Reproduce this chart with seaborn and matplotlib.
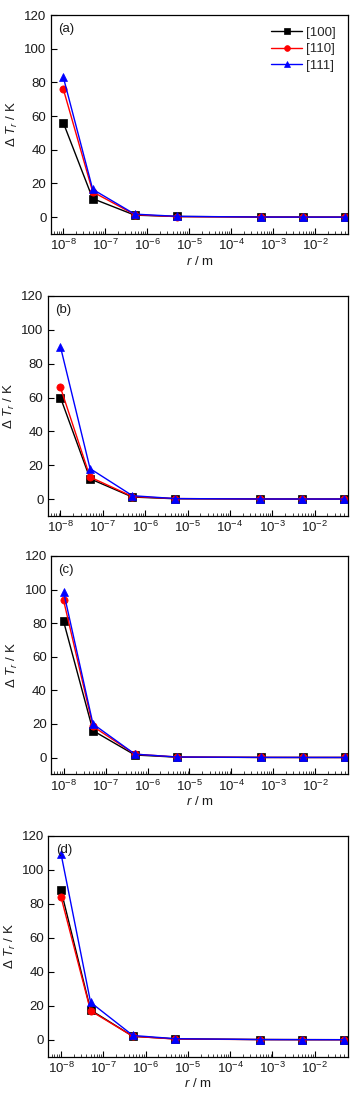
import numpy as np
import pandas as pd
import matplotlib
matplotlib.use("Agg")
import matplotlib.pyplot as plt
import seaborn as sns

# radius values (m)
r_vals = [1e-8, 5e-8, 5e-7, 5e-6, 5e-4, 5e-3, 5e-2]
directions = ["[100]", "[110]", "[111]"]
panel_labels = ["(a)", "(b)", "(c)", "(d)"]

# delta T_r (K) per panel, per direction
a_100 = [56, 11, 1.2, 0.4, 0.1, 0.05, 0.02]
a_110 = [76, 15, 1.5, 0.3, 0.05, 0.03, 0.02]
a_111 = [83, 16.5, 1.8, 0.5, 0.05, 0.03, 0.02]

b_100 = [60, 12, 1.2, 0.2, 0.05, 0.03, 0.02]
b_110 = [66, 13, 1.5, 0.3, 0.05, 0.03, 0.02]
b_111 = [90, 18, 2.0, 0.3, 0.05, 0.03, 0.02]

c_100 = [81, 16, 1.5, 0.2, 0.05, 0.03, 0.02]
c_110 = [93.5, 18.5, 2.0, 0.3, 0.05, 0.03, 0.02]
c_111 = [98.5, 20, 2.0, 0.3, 0.05, 0.03, 0.02]

d_100 = [88, 17.5, 2.0, 0.5, 0.1, 0.05, 0.02]
d_110 = [84, 17, 2.0, 0.4, 0.1, 0.05, 0.02]
d_111 = [109.5, 22, 2.5, 0.6, 0.1, 0.05, 0.02]

panels = [
    [a_100, a_110, a_111],
    [b_100, b_110, b_111],
    [c_100, c_110, c_111],
    [d_100, d_110, d_111],
]

sns.set_theme(style="ticks")
plt.rcParams["font.family"] = ["Liberation Sans", "DejaVu Sans"]
plt.rcParams["mathtext.fontset"] = "custom"
plt.rcParams["mathtext.rm"] = "Liberation Sans"
plt.rcParams["mathtext.it"] = "Liberation Sans:italic"
plt.rcParams["mathtext.default"] = "regular"

W, H = 354, 1094
fig = plt.figure(figsize=(W / 100, H / 100), dpi=100)

# axes boxes in pixels: left, right, top, bottom
boxes = [
    (50.7, 348, 15, 234),
    (47.7, 347.7, 296, 516),
    (51, 348, 556, 774.3),
    (48.3, 347.7, 836, 1056.7),
]

colors = {"[100]": "black", "[110]": "red", "[111]": "blue"}
markers = {"[100]": "s", "[110]": "o", "[111]": "^"}

for i, (vals, (l, rr, t, b)) in enumerate(zip(panels, boxes)):
    ax = fig.add_axes([l / W, 1 - b / H, (rr - l) / W, (b - t) / H])
    df = pd.DataFrame({
        "r": r_vals * 3,
        "dT": vals[0] + vals[1] + vals[2],
        "dir": [d for d in directions for _ in r_vals],
    })
    sns.lineplot(data=df, x="r", y="dT", hue="dir", style="dir",
                 palette=colors, markers=markers, dashes=False,
                 markersize=5.2, markeredgewidth=0.5, linewidth=1.0,
                 ax=ax, legend=(i == 0))
    # solid markers, edge same as face
    for ln in ax.get_lines():
        ln.set_markeredgecolor(ln.get_color())
    ax.set_xscale("log")
    ax.set_xlim(5e-9, 6e-2)
    ax.set_ylim(-10, 120)
    ax.set_yticks(np.arange(0, 121, 20))
    ax.set_xticks([1e-8, 1e-7, 1e-6, 1e-5, 1e-4, 1e-3, 1e-2])
    ax.tick_params(axis="both", which="major", direction="in", length=4,
                   width=0.8, labelsize=9.5, pad=3, colors="black",
                   labelcolor="#1a1a1a")
    ax.tick_params(axis="x", which="minor", direction="in", length=2.5, width=0.6)
    for sp in ax.spines.values():
        sp.set_linewidth(0.9)
        sp.set_color("black")
    ax.set_ylabel(r"$\Delta$ $\mathit{T}_{\mathit{r}}$ / K", fontsize=9.5,
                  labelpad=3, color="#1a1a1a")
    if i != 1:
        ax.set_xlabel(r"$\mathit{r}$ / m", fontsize=9.5, labelpad=1,
                      color="#1a1a1a")
    else:
        ax.set_xlabel("")
    ax.text(0.025, 0.965, panel_labels[i], transform=ax.transAxes,
            fontsize=9.5, va="top", ha="left", color="#1a1a1a")
    if i == 0:
        leg = ax.legend(loc="upper right", frameon=False, fontsize=9.5,
                        handlelength=2.4, handletextpad=0.3, labelspacing=0.3,
                        borderaxespad=0.5, markerscale=0.8, title=None)
        for ln in leg.get_lines():
            ln.set_markeredgecolor(ln.get_color())

fig.savefig("out.png", dpi=100)
